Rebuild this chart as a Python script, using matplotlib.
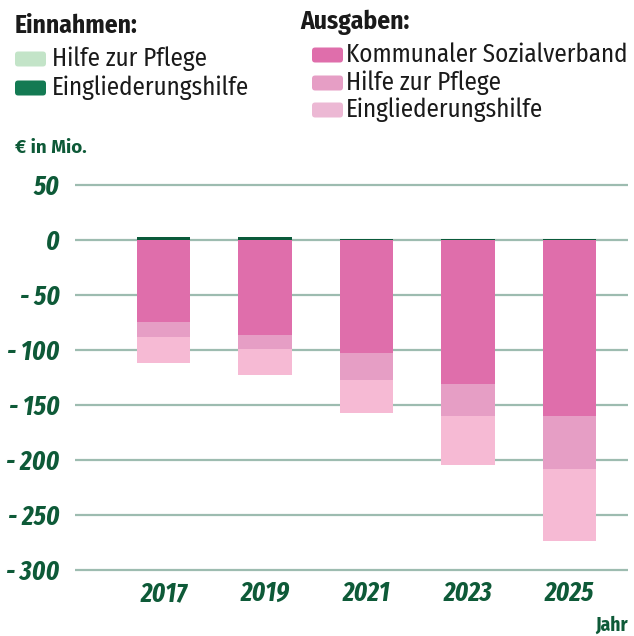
import matplotlib.pyplot as plt
import numpy as np
from matplotlib.patches import FancyBboxPatch

years = ["2017", "2019", "2021", "2023", "2025"]

# Einnahmen (positive)
inc_pflege = [0.0, 0.0, 0.0, 0.0, 0.0]
inc_eingl = [2.5, 3.0, 1.2, 1.2, 1.2]

# Ausgaben (negative)
exp_ksv = [-75, -86, -103, -131, -160]
exp_pflege = [-13, -13, -24, -29, -48]
exp_eingl = [-24, -24, -30, -45, -66]

yticks = [50, 0, -50, -100, -150, -200, -250, -300]
ytick_labels = ["50", "0", "- 50", "- 100", "- 150", "- 200", "- 250", "- 300"]

C_KSV = "#df6eab"
C_EXP_PFL = "#e69ec5"
C_EXP_EGH = "#f6bad4"
C_INC_PFL = "#c3e4c8"
C_INC_EGH = "#137a53"
C_BAR_EGH = "#0b5a3a"
C_TEXT = "#0e5a38"
C_GRID = "#9dbcb0"

XCOND = ["Fira Sans Extra Condensed", "Barlow Condensed", "DejaVu Sans"]
COND = ["Fira Sans Condensed", "Barlow Condensed", "DejaVu Sans"]
FIRA = ["Fira Sans", "DejaVu Sans"]

W, H = 634, 636


def fx(px):
    return px / W


def fy(py):
    return 1 - py / H


fig = plt.figure(figsize=(W / 100, H / 100), dpi=100)

# axes: 50 at y=185px, -300 at y=570px ; bars centred ~163px .. 570px
ymin, ymax = -303, 53
ppu = (570 - 185) / 350.0
top_px = 185 - (ymax - 50) * ppu
bot_px = 570 + (-300 - ymin) * ppu
ax = fig.add_axes([fx(75), fy(bot_px), fx(628) - fx(75), (bot_px - top_px) / H])

x = np.arange(len(years))
step = 101.5
xlo = -(163.5 - 75) / step
ax.set_xlim(xlo, xlo + 553 / step)
ax.set_ylim(ymin, ymax)

for t in yticks:
    ax.axhline(t, color=C_GRID, lw=1.6, zorder=0)

bw = 0.53
ax.bar(x, exp_ksv, bw, color=C_KSV, zorder=2)
ax.bar(x, exp_pflege, bw, bottom=exp_ksv, color=C_EXP_PFL, zorder=2)
bottom2 = np.array(exp_ksv) + np.array(exp_pflege)
ax.bar(x, exp_eingl, bw, bottom=bottom2, color=C_EXP_EGH, zorder=2)
ax.bar(x, inc_pflege, bw, color=C_INC_PFL, zorder=2)
ax.bar(x, inc_eingl, bw, bottom=inc_pflege, color=C_BAR_EGH, zorder=2)

for s in ax.spines.values():
    s.set_visible(False)
ax.tick_params(length=0)
ax.set_yticks(yticks)
ax.set_yticklabels(ytick_labels)
ax.set_xticks(x)
ax.set_xticklabels(years)
for lab in ax.get_yticklabels() + ax.get_xticklabels():
    lab.set_family(XCOND)
    lab.set_fontweight("bold")
    lab.set_fontstyle("italic")
    lab.set_fontsize(19.5)
    lab.set_color(C_TEXT)
ax.tick_params(axis="y", pad=11)
ax.tick_params(axis="x", pad=5)

# texts
fig.text(fx(15), fy(148), "€ in Mio.", fontsize=13.5, fontweight="bold",
         color=C_TEXT, va="center", ha="left", family=FIRA)
fig.text(fx(628), fy(625), "Jahr", fontsize=14, fontweight="bold",
         color=C_TEXT, va="center", ha="right", family=COND)

fig.text(fx(15), fy(26), "Einnahmen:", fontsize=18.3, fontweight="bold",
         color="#1a1a1a", va="center", ha="left", family=COND)
fig.text(fx(300), fy(22), "Ausgaben:", fontsize=18.3, fontweight="bold",
         color="#1a1a1a", va="center", ha="left", family=COND)


def legend_item(px, py, color, label, gap):
    patch = FancyBboxPatch((fx(px), fy(py + 7.5)), fx(31), 15 / H,
                           boxstyle="round,pad=0,rounding_size=0.005",
                           transform=fig.transFigure, facecolor=color,
                           edgecolor="none")
    fig.add_artist(patch)
    fig.text(fx(px + gap), fy(py), label, fontsize=18, color="#1a1a1a",
             va="center", ha="left", family=COND)


legend_item(15, 59, C_INC_PFL, "Hilfe zur Pflege", 37)
legend_item(15, 88, C_INC_EGH, "Eingliederungshilfe", 37)
legend_item(312, 55, C_KSV, "Kommunaler Sozialverband", 34)
legend_item(312, 83, C_EXP_PFL, "Hilfe zur Pflege", 34)
legend_item(312, 110, "#ecb8d4", "Eingliederungshilfe", 34)

fig.savefig("out.png", dpi=100)
